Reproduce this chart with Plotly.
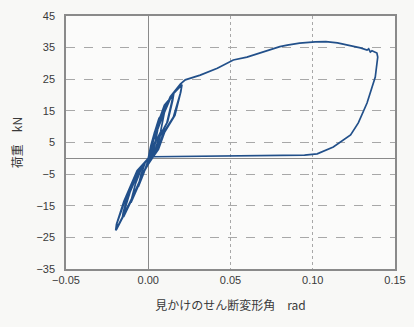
import plotly.graph_objects as go

# Load path (apparent shear deformation angle [rad], load [kN])
deform_rad = [
    0.0, 0.0009, 0.0022, 0.0039, 0.006, 0.0057, 0.0045, 0.0026, 0.0016, 0.0006,
    -0.0006, -0.0028, -0.005, -0.006, -0.0057, -0.0044, -0.0019, 0.0,
    0.0015, 0.0036, 0.0065, 0.010, 0.0095, 0.0075, 0.0044, 0.0027, 0.001,
    -0.001, -0.0049, -0.0088, -0.0105, -0.010, -0.0078, -0.0034, 0.0,
    0.0022, 0.0054, 0.0098, 0.015, 0.0143, 0.0113, 0.0066, 0.004, 0.0015,
    -0.0015, -0.007, -0.0126, -0.015, -0.0145, -0.0111, -0.0048, 0.0,
    0.0025, 0.0062, 0.0108, 0.0155, 0.0148, 0.0118, 0.0072, 0.0045, 0.0018,
    -0.0018, -0.0078, -0.0135, -0.0158, -0.0152, -0.0118, -0.0054, 0.0,
    0.003, 0.0073, 0.0134, 0.0205, 0.0195, 0.0153, 0.0091, 0.0055, 0.002,
    -0.002, -0.009, -0.016, -0.0195, -0.019, -0.014, -0.006, 0.0,
    0.0034, 0.0082, 0.0142, 0.0205, 0.0198, 0.0162, 0.0100, 0.0062, 0.0024,
    -0.0024, -0.0098, -0.0168, -0.0198, -0.0193, -0.0148, -0.0068, 0.0,
    0.003, 0.0073, 0.0134, 0.0195, 0.0225, 0.0316, 0.042, 0.0517, 0.060,
    0.068, 0.0723, 0.080, 0.0845, 0.092, 0.1015, 0.108, 0.115, 0.122, 0.129,
    0.133, 0.134, 0.135, 0.136, 0.139, 0.1395, 0.138, 0.133, 0.1277, 0.123,
    0.1125, 0.1027, 0.095, 0.05, 0.003, 0.0,
]
load_kn = [
    0.0, 2.5, 5.2, 8.4, 10.0, 8.9, 5.6, 3.4, 1.1, 0.0,
    -1.4, -4.8, -7.7, -9.0, -8.0, -5.2, -1.4, 0.0,
    3.8, 7.8, 12.6, 15.0, 13.4, 8.4, 5.1, 1.7, 0.0,
    -2.2, -7.4, -12.0, -14.0, -12.5, -8.1, -2.2, 0.0,
    5.0, 10.4, 16.8, 20.0, 17.8, 11.2, 6.8, 2.2, 0.0,
    -3.0, -9.8, -15.9, -18.5, -16.5, -10.7, -3.0, 0.0,
    5.2, 10.8, 17.2, 20.4, 18.2, 11.6, 7.0, 2.3, 0.0,
    -3.2, -10.2, -16.4, -19.0, -17.0, -11.0, -3.2, 0.0,
    5.8, 12.1, 19.5, 23.2, 20.6, 13.1, 8.0, 2.6, 0.0,
    -3.7, -12.1, -19.5, -22.7, -20.5, -13.2, -3.7, 0.0,
    6.0, 12.5, 19.8, 23.3, 21.0, 13.6, 8.3, 2.8, 0.0,
    -3.8, -12.5, -19.9, -22.8, -20.8, -13.6, -3.9, 0.0,
    5.8, 12.1, 19.5, 23.5, 24.8, 26.3, 28.5, 31.1, 32.0,
    33.3, 34.2, 35.3, 35.8, 36.4, 36.8, 36.9, 36.5, 35.8, 34.9,
    34.2, 34.6, 33.6, 34.0, 33.3, 32.0, 25.7, 17.5, 11.2, 7.4,
    3.6, 1.4, 1.0, 0.8, 0.5, 0.0,
]

x_ticks = [-0.05, 0.0, 0.05, 0.10, 0.15]
y_ticks = [45, 35, 25, 15, 5, -5, -15, -25, -35]

fig = go.Figure()
fig.add_trace(go.Scatter(
    x=deform_rad, y=load_kn, mode="lines",
    line=dict(color="#22508a", width=1.7),
    showlegend=False,
))

tick_font = dict(family="Liberation Sans, Arial, sans-serif", size=11, color="#3a3a3a")
title_font = dict(family="Noto Sans CJK JP", size=12, color="#3a3a3a")

fig.update_layout(
    width=414, height=327,
    margin=dict(l=66, r=19, t=16, b=58),
    paper_bgcolor="#f8f8f6",
    plot_bgcolor="#fbfbfa",
    xaxis=dict(
        range=[-0.05, 0.15], tickvals=x_ticks, tickformat=".2f",
        showgrid=True, gridcolor="#a8a8a8", griddash="dot", gridwidth=1,
        zeroline=True, zerolinecolor="#8a8a8a", zerolinewidth=1.2,
        showline=True, linecolor="#8a8a8a", linewidth=1.5, mirror=True,
        ticks="", tickfont=tick_font, ticklabelstandoff=0,
        automargin=False,
        title=dict(text="見かけのせん断変形角　rad", font=title_font, standoff=17),
    ),
    yaxis=dict(
        range=[-35, 45], tickvals=y_ticks,
        showgrid=True, gridcolor="#a8a8a8", griddash="dash", gridwidth=1,
        zeroline=True, zerolinecolor="#8a8a8a", zerolinewidth=1.2,
        showline=True, linecolor="#8a8a8a", linewidth=1.5, mirror=True,
        ticks="", tickfont=tick_font, ticklabelstandoff=7,
        automargin=False,
        title=dict(text="荷重　kN", font=title_font, standoff=11),
    ),
)

fig.write_html(
    "out.html",
    config={"displayModeBar": False},
    post_script="document.body.style.margin='0px';document.body.style.overflow='hidden';",
)
